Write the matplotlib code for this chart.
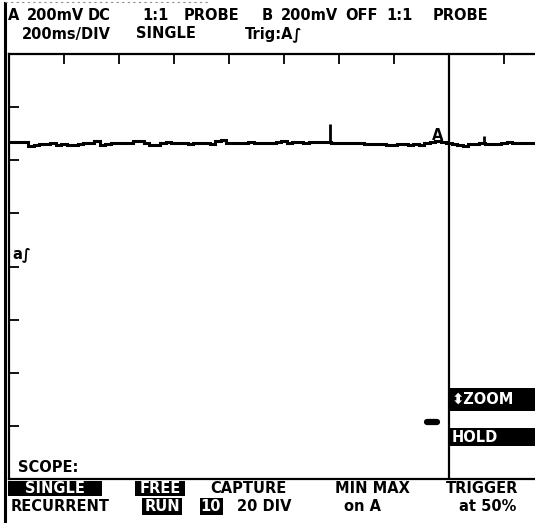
import matplotlib
matplotlib.use("Agg")
import matplotlib.pyplot as plt
import numpy as np
from matplotlib.patches import Rectangle

plt.rcParams.update({
    "font.family": ["DejaVu Sans"],
    "font.size": 10.5,
    "font.weight": "bold",
})

# channel A trace, one sample per 20 ms (mV)
trace_t = np.arange(0, 1921, 20) / 1000.0
trace_mv = [
    469, 469, 469, 468, 453, 458, 462, 460, 466, 458,
    460, 458, 458, 462, 464, 464, 471, 457, 462, 465,
    465, 465, 465, 472, 472, 464, 458, 457, 464, 470,
    466, 464, 464, 462, 464, 466, 465, 462, 472, 475,
    466, 464, 465, 466, 467, 466, 464, 465, 465, 470,
    471, 466, 467, 467, 466, 467, 467, 468, 467, 465,
    465, 465, 464, 464, 464, 462, 462, 460, 462, 458,
    458, 460, 460, 458, 462, 458, 464, 468, 471, 468,
    464, 460, 458, 455, 460, 460, 464, 462, 462, 462,
    464, 470, 464, 464, 466, 466, 466,
]
spike_t = [1.167, 1.727]
spike_mv = [538, 492]

cursor_t = 1.6
mark_t = [1.52, 1.555]
mark_mv = -587

header_1 = [("A", 14), ("200mV", 55), ("DC", 99), ("1:1", 155), ("PROBE", 211),
            ("B", 267), ("200mV", 309), ("OFF", 361), ("1:1", 399), ("PROBE", 460)]
header_2 = [("200ms/DIV", 66), ("SINGLE", 166), ("Trig:A\u222b", 274)]
# (label, centre x, inverted box extent or None)
menu_1 = [("SINGLE", 55, (8, 102)), ("FREE", 160, (135, 185)),
          ("CAPTURE", 248, None), ("MIN MAX", 372, None), ("TRIGGER", 482, None)]
menu_2 = [("RECURRENT", 60, None), ("RUN", 162, (142, 182)), ("10", 211, (200, 223)),
          ("20 DIV", 264, None), ("on A", 363, None), ("at 50%", 488, None)]

W, H = 535, 523
fig = plt.figure(figsize=(W / 100, H / 100), dpi=100)

# pixel overlay for the screen furniture
bg = fig.add_axes([0, 0, 1, 1])
bg.set_xlim(0, W)
bg.set_ylim(H, 0)
bg.axis("off")

# scope graticule: 10 x 200 ms, 8 x 200 mV
x0, x1, y0, y1 = 9, 559, 54, 479
ax = fig.add_axes([x0 / W, 1 - y1 / H, (x1 - x0) / W, (y1 - y0) / H])
ax.set_facecolor("none")
ax.set_xlim(0, 2.0)
ax.set_ylim(-0.8, 0.8)
for side in ("left", "top", "bottom"):
    ax.spines[side].set_linewidth(1.6)
ax.spines["right"].set_visible(False)
ax.set_xticks([0.2 * k for k in range(1, 10)])
ax.set_yticks([0.2 * k for k in range(-3, 4)])
ax.tick_params(direction="in", length=7, width=1.3, top=True, bottom=False,
               left=True, right=False, labelbottom=False, labelleft=False)

v = np.array(trace_mv) / 1000.0
ax.plot(trace_t, v, color="black", lw=2.2, drawstyle="steps-mid",
        solid_joinstyle="miter")
base = np.interp(spike_t, trace_t, v)
ax.vlines(spike_t, base, np.array(spike_mv) / 1000.0, color="black", lw=2.0)
ax.axvline(cursor_t, color="black", lw=1.6)
ax.plot(mark_t, [mark_mv / 1000.0] * 2, color="black", lw=4.5,
        solid_capstyle="round")

# outer frame
bg.plot([5, 5], [3, H], color="black", lw=2.2)
bg.plot([5, 210], [2, 2], color="0.55", lw=0.8, ls=(0, (2, 3)))

txt = dict(ha="center", va="center")
for s, x in header_1:
    bg.text(x, 16, s, **txt)
for s, x in header_2:
    bg.text(x, 34, s, **txt)

bg.text(438, 135, "A", **txt)
bg.text(22, 254, "a\u222b", **txt)
bg.text(18, 467, "SCOPE:", ha="left", va="center")

# right-hand soft keys
bg.add_patch(Rectangle((449, 388), 90, 23, fc="black", ec="none"))
bg.add_patch(Rectangle((449, 428), 90, 18, fc="black", ec="none"))
bg.text(452, 399.5, "\u2b0dZOOM", color="white", ha="left", va="center")
bg.text(452, 437, "HOLD", color="white", ha="left", va="center")

# bottom function-key menu
for (top, bottom), row in (((481, 496), menu_1), ((498, 515), menu_2)):
    yc = (top + bottom) / 2
    for s, x, box in row:
        if box:
            bg.add_patch(Rectangle((box[0], top), box[1] - box[0], bottom - top,
                                   fc="black", ec="none"))
        bg.text(x, yc, s, ha="center", va="center",
                color="white" if box else "black")

fig.savefig("out.png", dpi=100)
